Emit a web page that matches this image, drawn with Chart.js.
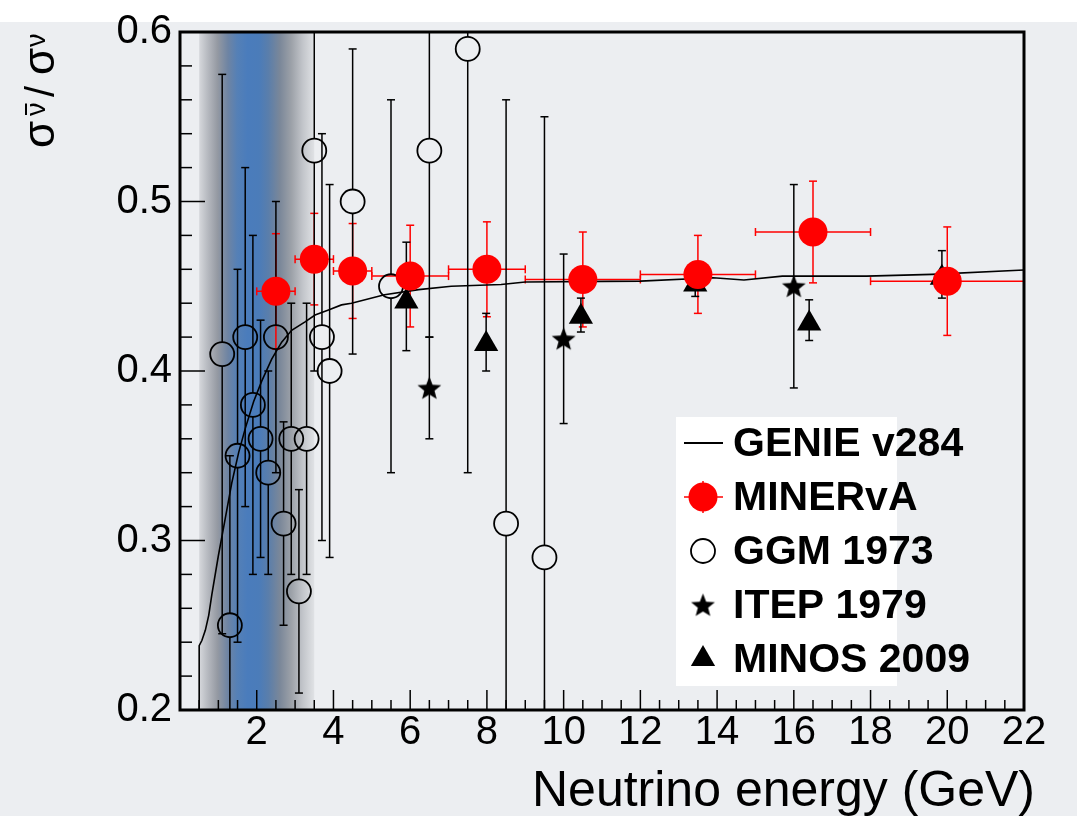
<!DOCTYPE html>
<html>
<head>
<meta charset="utf-8">
<title>Antineutrino / neutrino cross-section ratio</title>
<script src="https://cdn.jsdelivr.net/npm/chart.js@4.4.1/dist/chart.umd.min.js"></script>
<style>
  html, body { margin: 0; padding: 0; background: #ffffff; }
  canvas { display: block; }
</style>
</head>
<body>
<canvas id="ratioChart" width="1077" height="816"></canvas>
<script>
// ---------------- data ----------------
// GENIE v284 prediction (energy in GeV, ratio)
const genieE = [0.50, 0.50, 0.57, 0.66, 0.75, 0.83, 1.00, 1.18, 1.35, 1.53, 1.70, 1.92, 2.13, 2.39, 2.65, 2.91,
                3.26, 3.52, 3.87, 4.21, 4.47, 5.33, 6.22, 7.07, 8.37, 9.00, 12.0, 13.9, 14.7, 15.7, 17.9, 19.6, 22.0];
const genieR = [0.200, 0.238, 0.241, 0.247, 0.256, 0.268, 0.291, 0.313, 0.334, 0.352, 0.366, 0.382, 0.394, 0.407, 0.417, 0.424,
                0.429, 0.433, 0.436, 0.439, 0.440, 0.445, 0.448, 0.450, 0.451, 0.4525, 0.453, 0.455, 0.4537, 0.456, 0.456, 0.457, 0.4596];

// MINERvA measurement, bin edges give the horizontal bars
const minervaE    = [2.5, 3.5, 4.5, 6.0, 8.0, 10.5, 13.5, 16.5, 20.0];
const minervaR    = [0.447, 0.466, 0.459, 0.456, 0.460, 0.454, 0.457, 0.482, 0.453];
const minervaErr  = [0.034, 0.027, 0.028, 0.030, 0.028, 0.028, 0.023, 0.030, 0.032];
const minervaLow  = [2.0, 3.0, 4.0, 5.0, 7.0, 9.0, 12.0, 15.0, 18.0];
const minervaHigh = [3.0, 4.0, 5.0, 7.0, 9.0, 12.0, 15.0, 18.0, 22.0];

// Gargamelle 1973
const ggmE   = [1.1, 1.3, 1.5, 1.7, 1.9, 2.1, 2.3, 2.5, 2.7, 2.9, 3.1, 3.3, 3.5, 3.7, 3.9, 4.5, 5.5, 6.5, 7.5, 8.5, 9.5];
const ggmR   = [0.41, 0.25, 0.35, 0.42, 0.38, 0.36, 0.34, 0.42, 0.31, 0.36, 0.27, 0.36, 0.53, 0.42, 0.40, 0.50, 0.45, 0.53, 0.59, 0.31, 0.29];
const ggmErr = [0.165, 0.10, 0.11, 0.10, 0.10, 0.07, 0.06, 0.08, 0.06, 0.08, 0.06, 0.08, 0.13, 0.12, 0.11, 0.09, 0.11, 0.11, 0.25, 0.25, 0.26];

// ITEP 1979
const itepE   = [6.5, 10.0, 16.0];
const itepR   = [0.390, 0.419, 0.450];
const itepErr = [0.030, 0.050, 0.060];

// MINOS 2009
const minosE     = [5.90, 7.98, 10.45, 13.43, 16.40, 19.86];
const minosR     = [0.441, 0.416, 0.432, 0.451, 0.428, 0.455];
const minosErrUp = [0.035, 0.018, 0.011, 0.007, 0.014, 0.016];
const minosErrDn = [0.029, 0.016, 0.009, 0.007, 0.010, 0.012];

// shaded flux-peak region (GeV)
const bandRange = [0.5, 3.5];

// axis ticks
const xMajorTicks = [2, 4, 6, 8, 10, 12, 14, 16, 18, 20, 22];
const xMinorStep = 0.5;
const yMajorTicks = [0.2, 0.3, 0.4, 0.5, 0.6];
const yMinorStep = 0.02;

const legendOrder = ["GENIE v284", "MINERvA", "GGM 1973", "ITEP 1979", "MINOS 2009"];

// ---------------- helpers ----------------
const FONT = '"Liberation Sans", Arial, Helvetica, sans-serif';

function toPoints(xs, ys) {
  return xs.map((x, i) => ({ x: x, y: ys[i] }));
}

// filled five point star used as a point style
function makeStar(outer, inner) {
  const c = document.createElement("canvas");
  const size = Math.ceil(outer * 2 + 4);
  c.width = size;
  c.height = size;
  const g = c.getContext("2d");
  g.translate(size / 2, size / 2 + 1);
  g.beginPath();
  for (let k = 0; k < 10; k++) {
    const r = k % 2 === 0 ? outer : inner;
    const a = -Math.PI / 2 + (k * Math.PI) / 5;
    g.lineTo(r * Math.cos(a), r * Math.sin(a));
  }
  g.closePath();
  g.fillStyle = "#000";
  g.fill();
  return c;
}
const starImg = makeStar(12.5, 5.4);

function line(ctx, x1, y1, x2, y2) {
  ctx.beginPath();
  ctx.moveTo(x1, y1);
  ctx.lineTo(x2, y2);
  ctx.stroke();
}

/******************************************* Background, shaded band and error bars *******************************************/
const backdropPlugin = {
  id: "backdrop",
  beforeDraw(chart) {
    const ctx = chart.ctx;
    ctx.save();
    ctx.fillStyle = "#ffffff";
    ctx.fillRect(0, 0, chart.width, chart.height);
    ctx.fillStyle = "#eceef1";
    ctx.fillRect(0, 22, chart.width, chart.height - 22);
    ctx.restore();
  },
  beforeDatasetsDraw(chart) {
    const { ctx, chartArea, scales } = chart;
    const x0 = scales.x.getPixelForValue(bandRange[0]);
    const x1 = scales.x.getPixelForValue(bandRange[1]);
    const grad = ctx.createLinearGradient(x0, 0, x1, 0);
    [[0.00, "#d6d8dc"], [0.07, "#b8bbc1"], [0.16, "#9499a2"], [0.25, "#6e84a3"],
     [0.33, "#5580b6"], [0.42, "#4a7cbc"], [0.52, "#4b7cb9"], [0.60, "#5a7eab"],
     [0.70, "#7a8799"], [0.80, "#9ca1a8"], [0.90, "#c2c5ca"], [1.00, "#e0e2e5"]]
      .forEach(([o, c]) => grad.addColorStop(o, c));
    ctx.save();
    ctx.fillStyle = grad;
    ctx.fillRect(x0, chartArea.top, x1 - x0, chartArea.bottom - chartArea.top);
    ctx.restore();

    // error bars sit under the markers
    ctx.save();
    ctx.beginPath();
    ctx.rect(chartArea.left, chartArea.top, chartArea.right - chartArea.left, chartArea.bottom - chartArea.top);
    ctx.clip();
    chart.data.datasets.forEach((ds) => {
      if (!ds.errUp) return;
      ctx.strokeStyle = ds.errColor;
      ctx.lineWidth = 1.5;
      const cap = 4;
      const gap = ds.errGap || 0;
      ds.data.forEach((p, i) => {
        const px = scales.x.getPixelForValue(p.x);
        const py = scales.y.getPixelForValue(p.y);
        const top = scales.y.getPixelForValue(p.y + ds.errUp[i]);
        const bot = scales.y.getPixelForValue(p.y - ds.errDown[i]);
        line(ctx, px, top, px, py - gap);
        line(ctx, px, py + gap, px, bot);
        line(ctx, px - cap, top, px + cap, top);
        line(ctx, px - cap, bot, px + cap, bot);
        if (ds.xLow) {
          const l = scales.x.getPixelForValue(ds.xLow[i]);
          const r = scales.x.getPixelForValue(ds.xHigh[i]);
          line(ctx, l, py, r, py);
          line(ctx, l, py - cap, l, py + cap);
          line(ctx, r, py - cap, r, py + cap);
        }
      });
    });
    ctx.restore();
  },
};

/******************************************* Frame, inward ticks, titles and legend *******************************************/
const framePlugin = {
  id: "frame",
  afterDatasetsDraw(chart) {
    const { ctx, chartArea, scales } = chart;
    const { left, right, top, bottom } = chartArea;
    ctx.save();
    ctx.strokeStyle = "#000";

    // tick marks pointing into the plot
    ctx.lineWidth = 1.5;
    for (let v = scales.x.min + xMinorStep; v < scales.x.max + 1e-6; v += xMinorStep) {
      const px = scales.x.getPixelForValue(v);
      const major = xMajorTicks.some((t) => Math.abs(t - v) < 1e-6);
      line(ctx, px, bottom, px, bottom - (major ? 20 : 10));
    }
    for (let v = scales.y.min + yMinorStep; v < scales.y.max + 1e-6; v += yMinorStep) {
      const py = scales.y.getPixelForValue(v);
      const major = yMajorTicks.some((t) => Math.abs(t - v) < 1e-6);
      line(ctx, left, py, left + (major ? 25 : 12), py);
    }

    // box
    ctx.lineWidth = 3;
    ctx.strokeRect(left, top, right - left, bottom - top);

    // x title
    ctx.fillStyle = "#000";
    ctx.font = "50px " + FONT;
    ctx.textAlign = "right";
    ctx.textBaseline = "alphabetic";
    ctx.fillText("Neutrino energy (GeV)", 1035, 806);

    // y title: sigma(nubar) / sigma(nu), read bottom to top
    ctx.save();
    ctx.translate(54, 148);
    ctx.rotate(-Math.PI / 2);
    ctx.textAlign = "left";
    const big = "44px " + FONT;
    const small = "27px " + FONT;
    ctx.font = big;
    ctx.fillText("σ", 0, 0);
    ctx.font = small;
    const wNu = ctx.measureText("ν").width;
    ctx.fillText("ν", 32, -9);
    ctx.lineWidth = 2;
    line(ctx, 33, -28, 31 + wNu, -28);
    ctx.font = "40px " + FONT;
    ctx.fillText("/", 51, 0);
    ctx.font = big;
    ctx.fillText("σ", 73, 0);
    ctx.font = small;
    ctx.fillText("ν", 101, -9);
    ctx.restore();

    // legend
    const bx = 676, by = 417, bw = 221, bh = 269;
    ctx.fillStyle = "#ffffff";
    ctx.fillRect(bx, by, bw, bh);
    const rowH = 54;
    legendOrder.forEach((label, k) => {
      const ds = chart.data.datasets.find((d) => d.label === label);
      const cy = 443 + k * rowH;
      const mx = 703;
      ctx.save();
      if (ds.showLine) {
        ctx.strokeStyle = ds.borderColor;
        ctx.lineWidth = 2;
        line(ctx, 684, cy, 723, cy);
      } else {
        if (ds.xLow) {
          ctx.strokeStyle = ds.errColor;
          ctx.lineWidth = 1.5;
          line(ctx, 684, cy, 723, cy);
          line(ctx, mx, cy - 16, mx, cy + 16);
        }
        ctx.fillStyle = ds.backgroundColor;
        ctx.strokeStyle = ds.borderColor;
        ctx.lineWidth = ds.borderWidth;
        Chart.helpers.drawPoint(ctx, {
          pointStyle: ds.pointStyle,
          radius: ds.pointRadius,
          borderWidth: ds.borderWidth,
          rotation: 0,
        }, mx, cy);
      }
      ctx.restore();
      ctx.fillStyle = "#000";
      ctx.font = "bold 41px " + FONT;
      ctx.textAlign = "left";
      ctx.textBaseline = "alphabetic";
      ctx.fillText(label, 733, cy + 13);
    });
    ctx.restore();
  },
};

/******************************************* Chart *******************************************/
Chart.defaults.font.family = FONT;
Chart.defaults.color = "#000";

new Chart(document.getElementById("ratioChart"), {
  type: "scatter",
  data: {
    datasets: [
      {
        label: "MINERvA",
        data: toPoints(minervaE, minervaR),
        pointStyle: "circle",
        pointRadius: 14.5,
        pointHoverRadius: 14.5,
        backgroundColor: "#ff0000",
        borderColor: "#ff0000",
        borderWidth: 0,
        errUp: minervaErr,
        errDown: minervaErr,
        xLow: minervaLow,
        xHigh: minervaHigh,
        errColor: "#ff0000",
      },
      {
        label: "GENIE v284",
        data: toPoints(genieE, genieR),
        showLine: true,
        pointRadius: 0,
        pointHoverRadius: 0,
        borderColor: "#000000",
        borderWidth: 1.6,
        tension: 0,
      },
      {
        label: "MINOS 2009",
        data: toPoints(minosE, minosR),
        pointStyle: "triangle",
        pointRadius: 14,
        pointHoverRadius: 14,
        backgroundColor: "#000000",
        borderColor: "#000000",
        borderWidth: 0,
        errUp: minosErrUp,
        errDown: minosErrDn,
        errColor: "#000000",
      },
      {
        label: "ITEP 1979",
        data: toPoints(itepE, itepR),
        pointStyle: starImg,
        pointRadius: 12,
        backgroundColor: "#000000",
        borderColor: "#000000",
        borderWidth: 0,
        errUp: itepErr,
        errDown: itepErr,
        errColor: "#000000",
      },
      {
        label: "GGM 1973",
        data: toPoints(ggmE, ggmR),
        pointStyle: "circle",
        pointRadius: 12,
        pointHoverRadius: 12,
        backgroundColor: "rgba(0,0,0,0)",
        borderColor: "#000000",
        borderWidth: 1.8,
        errUp: ggmErr,
        errDown: ggmErr,
        errGap: 12,
        errColor: "#000000",
      },
    ],
  },
  options: {
    responsive: false,
    animation: false,
    devicePixelRatio: 1,
    layout: { padding: { top: 29, right: 53, left: 0, bottom: 0 } },
    plugins: {
      legend: { display: false },
      tooltip: { enabled: false },
    },
    scales: {
      x: {
        type: "linear",
        position: "bottom",
        min: 0,
        max: 22,
        grid: { display: false, drawTicks: false },
        border: { display: false },
        afterBuildTicks: (scale) => {
          scale.ticks = xMajorTicks.map((v) => ({ value: v }));
        },
        afterFit: (scale) => {
          scale.height = 106;
        },
        ticks: {
          autoSkip: false,
          maxRotation: 0,
          padding: -1,
          font: { size: 40 },
          callback: (v) => String(v),
        },
      },
      y: {
        type: "linear",
        min: 0.2,
        max: 0.6,
        grid: { display: false, drawTicks: false },
        border: { display: false },
        afterBuildTicks: (scale) => {
          scale.ticks = yMajorTicks.map((v) => ({ value: v }));
        },
        afterFit: (scale) => {
          scale.width = 180;
        },
        ticks: {
          autoSkip: false,
          padding: 8,
          font: { size: 40 },
          callback: (v) => v.toFixed(1),
        },
      },
    },
  },
  plugins: [backdropPlugin, framePlugin],
});
</script>
</body>
</html>
